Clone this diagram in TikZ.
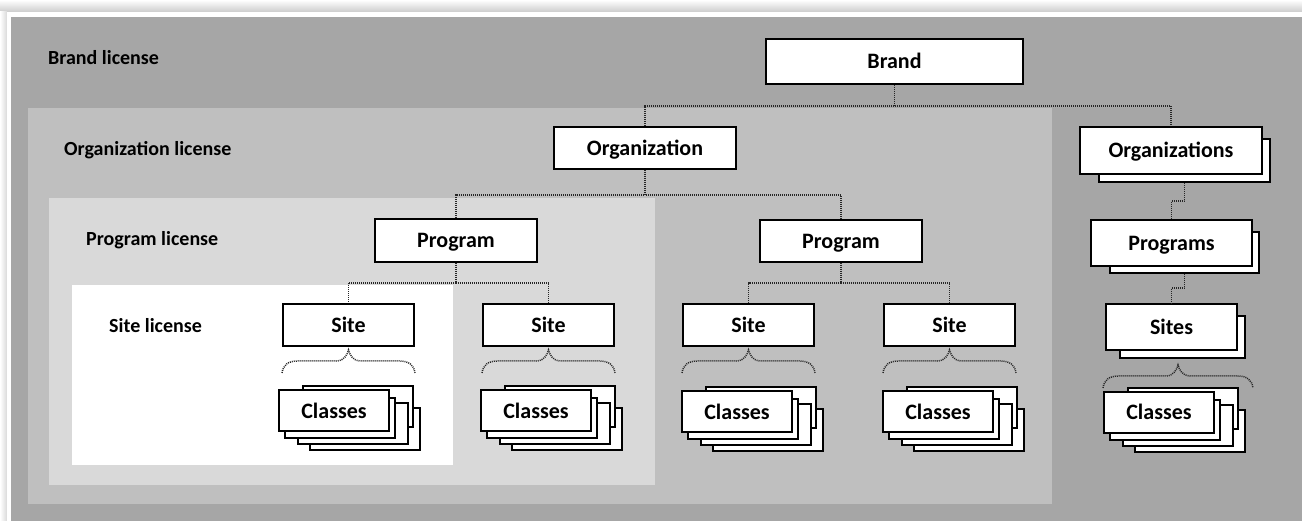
\documentclass[tikz,border=0pt]{standalone}
\usepackage{fontspec}
\setmainfont{Carlito}
\usetikzlibrary{calc}

\definecolor{brandgray}{HTML}{A6A6A6}
\definecolor{orggray}{HTML}{BFBFBF}
\definecolor{proggray}{HTML}{D9D9D9}

% a pile of class cards: #1 name of the front card, #2/#3 its top-left corner
\newcommand\classstack[3]{%
  \draw[backbox] (#2+31,#3+18) rectangle ++(110,42);
  \draw[backbox] (#2+24,#3-4) rectangle ++(110,41);
  \draw[backbox] (#2+19,#3+13) rectangle ++(110,41);
  \draw[backbox] (#2+6,#3+8) rectangle ++(110,40);
  \node[box, minimum width=110pt, minimum height=41pt] (#1) at (#2+55,#3+20.5) {Classes};
}

% curly brace opening downwards: #1 left end, #2 right end, #3 tip
\newcommand\curly[3]{%
  \draw[conn] (#1) .. controls +(1,-8) and +(-10,0) .. ($(#1)+(16,-12)$)
    -- ($(#3)+(-12,11)$) .. controls +(8,0) and +(-1,4) .. (#3)
    .. controls +(1,4) and +(-8,0) .. ($(#3)+(12,11)$)
    -- ($(#2)+(-16,-12)$) .. controls +(10,0) and +(-1,-8) .. (#2);
}

\begin{document}
\begin{tikzpicture}[x=1pt,y=-1pt,
  box/.style={draw=black, line width=1.9pt, fill=white, inner sep=0pt,
    text height=15pt, text depth=0pt,
    font=\fontsize{22}{24}\selectfont\bfseries},
  backbox/.style={draw=black, line width=1.9pt, fill=white},
  conn/.style={draw=black!85, line width=1.5pt, dash pattern=on 1pt off 1pt},
  lbl/.style={anchor=base west, inner sep=0pt, font=\fontsize{20}{24}\selectfont\bfseries}]

\useasboundingbox (0,0) rectangle (1302,521);

% frame with a soft drop shadow
\fill[white] (0,0) rectangle (1302,521);
\shade[top color=white, bottom color=black!20] (0,0) rectangle (1302,12);
\shade[left color=white, right color=black!15] (0,12) rectangle (7,521);
\fill[white] (7,12) rectangle (1302,521);

% nested licence areas
\fill[brandgray] (11,17) rectangle (1302,521);
\fill[orggray] (28,108) rectangle (1052,504);
\fill[proggray] (49,198) rectangle (655,485);
\fill[white] (72,285) rectangle (453,465);

\node[lbl] (lbrand) at (48,65) {Brand license};
\node[lbl] (lorg) at (64,156) {Organization license};
\node[lbl] (lprog) at (86,246) {Program license};
\node[lbl] (lsite) at (109,333) {Site license};

% hierarchy
\node[box, minimum width=257pt, minimum height=45pt] (brand) at (894.5,61.5) {Brand};
\node[box, minimum width=182pt, minimum height=42pt] (org) at (645,148) {Organization};
\node[box, minimum width=162pt, minimum height=43pt] (prog1) at (456,240.5) {Program};
\node[box, minimum width=162pt, minimum height=42pt] (prog2) at (841,241) {Program};
\node[box, minimum width=131pt, minimum height=42pt] (site1) at (348.5,325) {Site};
\node[box, minimum width=131pt, minimum height=42pt] (site2) at (548.5,325) {Site};
\node[box, minimum width=131pt, minimum height=42pt] (site3) at (748.5,325) {Site};
\node[box, minimum width=131pt, minimum height=42pt] (site4) at (949.5,325) {Site};

\classstack{cls1}{279}{390}
\classstack{cls2}{481}{390}
\classstack{cls3}{682}{391}
\classstack{cls4}{883}{391}

% plural column
\node[box, minimum width=171pt, minimum height=43pt] (orgsB) at (1184.5,160.5) {};
\node[box, minimum width=182pt, minimum height=47pt] (orgs) at (1171,150.5) {Organizations};
\node[box, minimum width=149pt, minimum height=41pt] (progsB) at (1184.5,252.5) {};
\node[box, minimum width=161pt, minimum height=46pt] (progs) at (1171.5,243) {Programs};
\node[box, minimum width=125pt, minimum height=42pt] (sitesB) at (1182.5,337) {};
\node[box, minimum width=131pt, minimum height=46pt] (sites) at (1171.5,327) {Sites};
\classstack{cls5}{1104}{392}

% connectors
\coordinate (busA) at (0,106);
\coordinate (busB) at (0,195);
\coordinate (busC) at (0,283);
\coordinate (busE) at (0,201);
\coordinate (busF) at (0,288);

\draw[conn] (brand.south) -- (brand.south |- busA) -| (org.north);
\draw[conn] (brand.south) -- (brand.south |- busA) -| (orgs.north);
\draw[conn] (org.south) -- (org.south |- busB) -| (prog1.north);
\draw[conn] (org.south) -- (org.south |- busB) -| (prog2.north);
\draw[conn] (prog1.south) -- (prog1.south |- busC) -| (site1.north);
\draw[conn] (prog1.south) -- (prog1.south |- busC) -| (site2.north);
\draw[conn] (prog2.south) -- (prog2.south |- busC) -| (site3.north);
\draw[conn] (prog2.south) -- (prog2.south |- busC) -| (site4.north);
\draw[conn] (orgsB.south) -- (orgsB.south |- busE) -| (progs.north);
\draw[conn] (progsB.south) -- (progsB.south |- busF) -| (sites.north);

% braces from each site to its classes
\foreach \s in {site1,site2,site3,site4}{
  \coordinate (\s-l) at ($(\s.south west)+(0,26)$);
  \coordinate (\s-r) at ($(\s.south east)+(0,26)$);
  \coordinate (\s-t) at ($(\s.south)+(0,3)$);
  \curly{\s-l}{\s-r}{\s-t}
}
\coordinate (sites-l) at ($(sites.south west)+(-2,37)$);
\coordinate (sites-r) at ($(sitesB.south east)+(7,29)$);
\coordinate (sites-t) at ($(sitesB.south)+(-4.5,6)$);
\curly{sites-l}{sites-r}{sites-t}

\end{tikzpicture}
\end{document}
